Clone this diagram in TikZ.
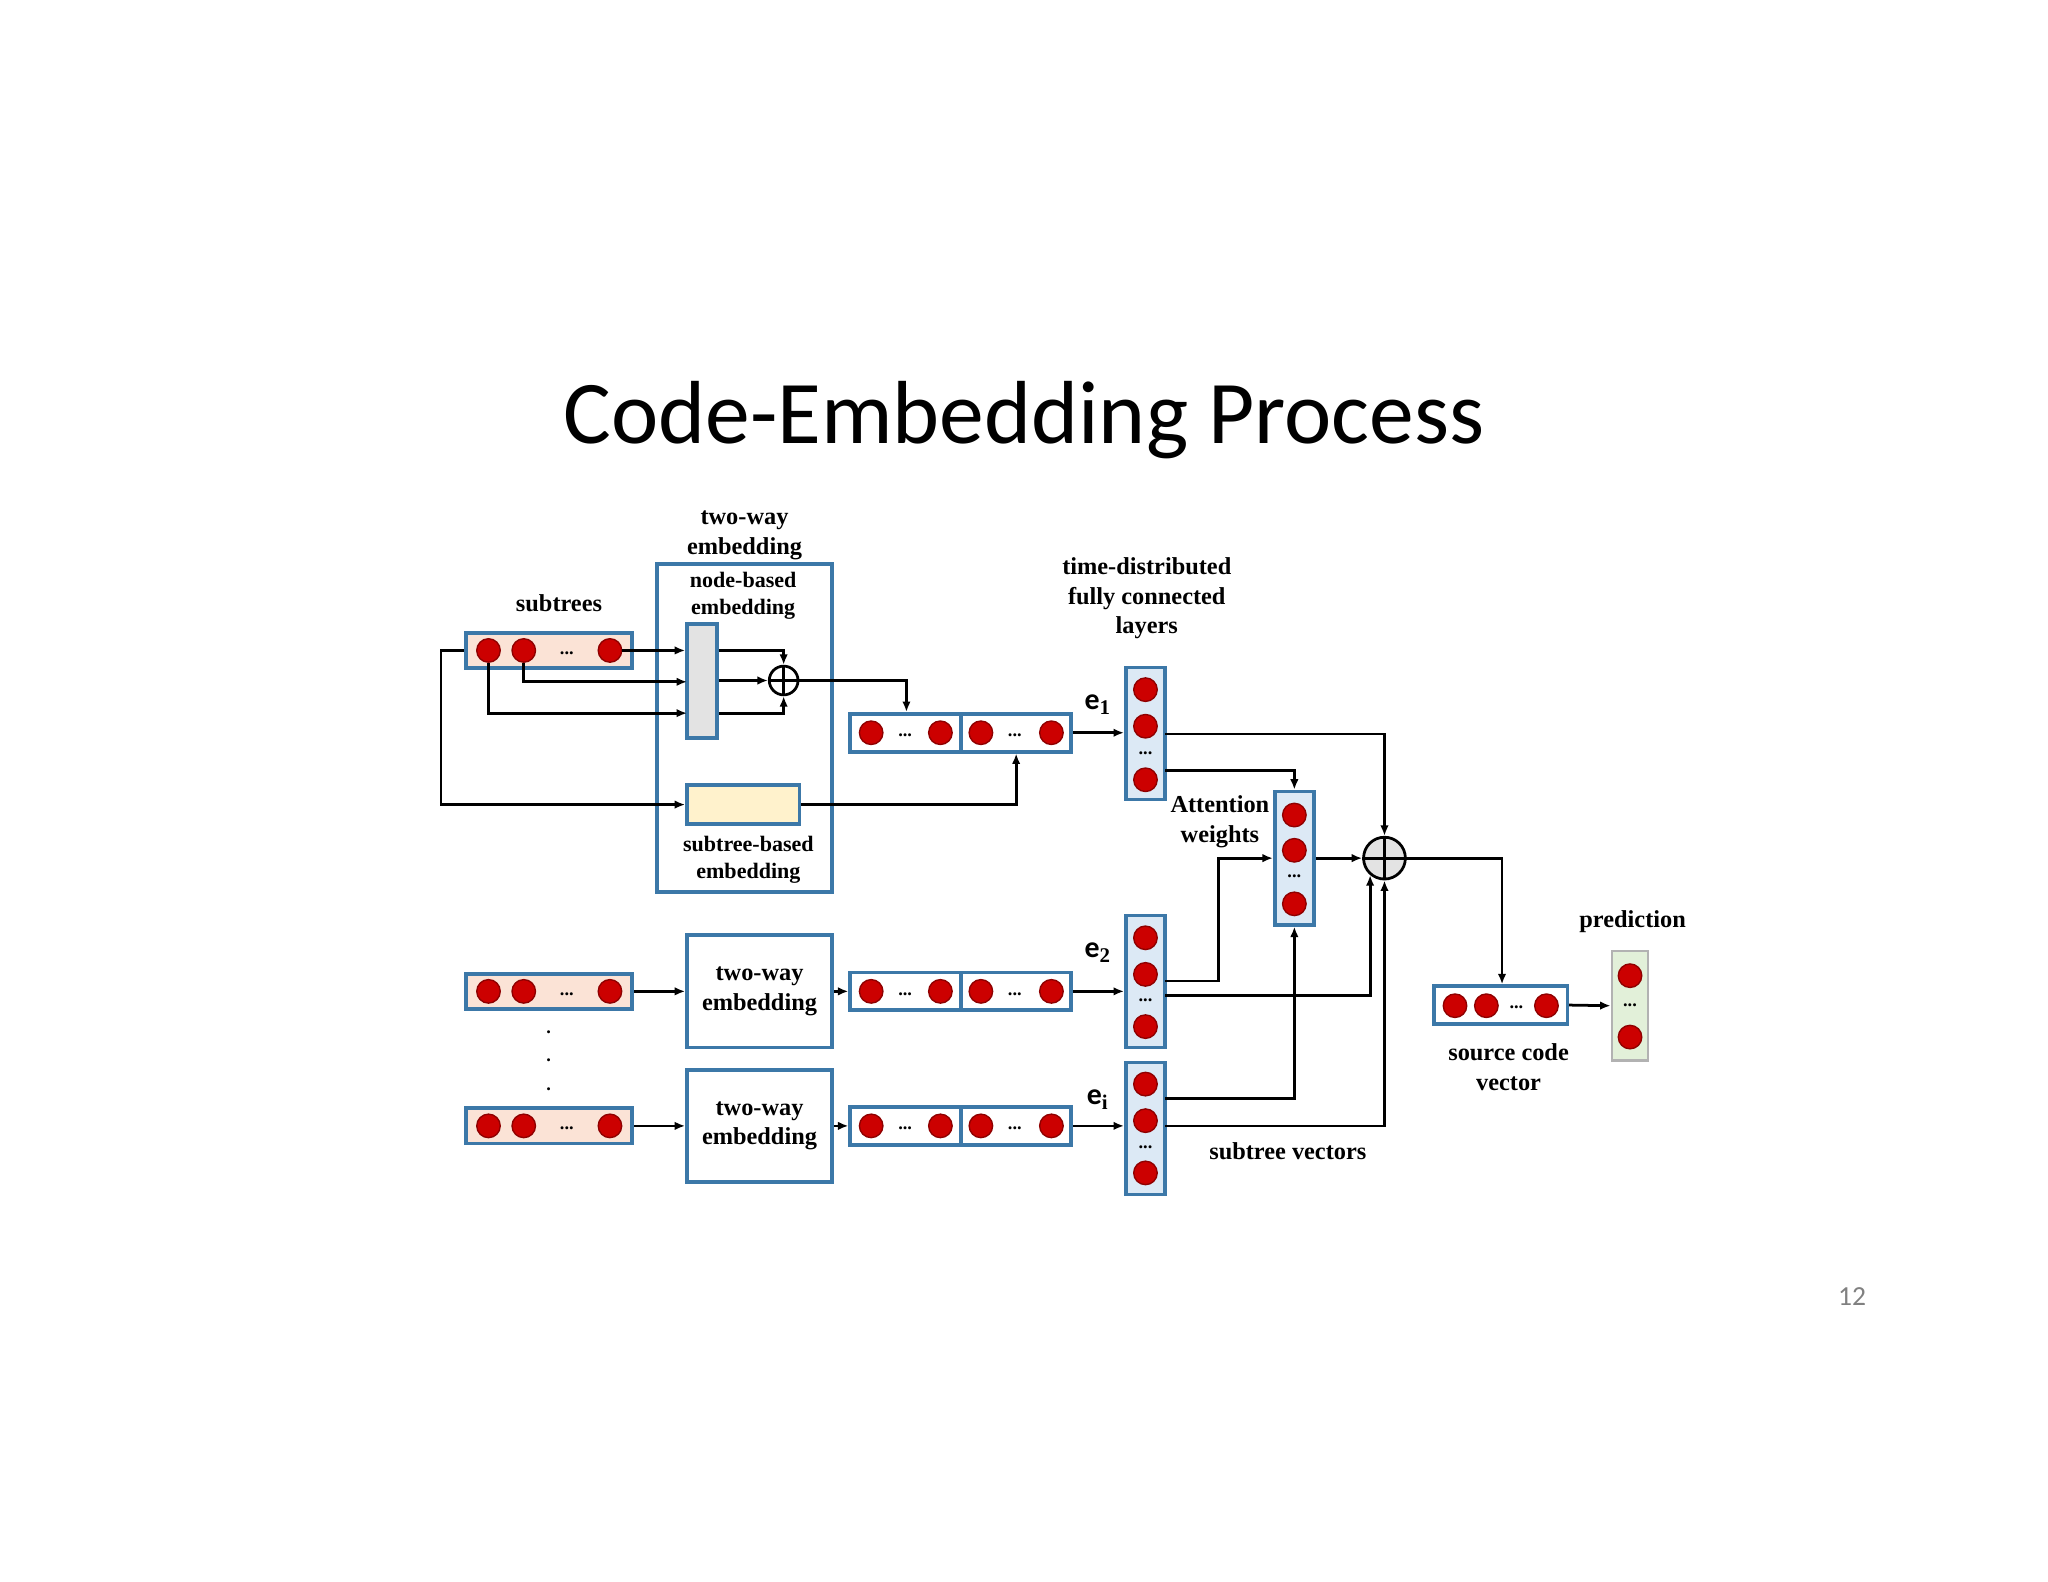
\documentclass[tikz,border=0pt]{standalone}
\usepackage{fontspec}
\setmainfont{Liberation Serif}
\newfontfamily\slidefont{Carlito}
\usetikzlibrary{calc}
\usetikzlibrary{arrows.meta}
\usetikzlibrary{positioning}
\definecolor{boxblue}{HTML}{3C78A8}
\definecolor{peach}{HTML}{FBE3D6}
\definecolor{paleblue}{HTML}{DCE9F5}
\definecolor{palegray}{HTML}{E3E3E3}
\definecolor{paleyellow}{HTML}{FFF2CC}
\definecolor{palegreen}{HTML}{E2F0D9}
\definecolor{dotred}{HTML}{CC0000}
\tikzset{
  vec/.style={draw=boxblue, line width=0.8pt, inner sep=0pt},
  dot/.style={circle, fill=dotred, draw=dotred!70!black, line width=0.3pt, minimum size=0.18cm, inner sep=0pt},
  dd/.style={font=\bfseries\fontsize{4}{4}\selectfont, inner sep=0pt},
  lbl/.style={font=\bfseries\fontsize{5.3}{6.5}\selectfont, align=center, inner sep=0pt},
  slbl/.style={font=\bfseries\fontsize{4.8}{5.9}\selectfont, align=center, inner sep=0pt},
  elbl/.style={font=\slidefont\bfseries\fontsize{6.5}{7}\selectfont, inner sep=0pt},
  conn/.style={line width=0.6pt, -{Latex[length=0.8mm, width=0.65mm]}},
  oplus/.style={circle, draw, line width=0.6pt, inner sep=0pt},
}
\begin{document}
\begin{tikzpicture}[x=0.01cm, y={(0cm,-0.01cm)}]
    \useasboundingbox (0,0) rectangle (1568,1211);
    \node[font=\slidefont\fontsize{19.5}{22}\selectfont] (title) at (784,322) {Code-Embedding Process};
    \node[font=\slidefont\fontsize{6}{7}\selectfont, text=gray] (pagenum) at (1418,993) {12};

    % subtree vectors (input)
    \foreach \n/\y in {1/498, 2/759, 3/862} {
      \node[vec, fill=peach, minimum width=1.27cm, minimum height=0.27cm] (s\n) at (420.5,\y) {};
      \node[dot] (s\n c1) at (374,\y) {};
      \node[dot] (s\n c2) at (401,\y) {};
      \node[dd] (s\n d) at (434,\y+2) {...};
      \node[dot] (s\n c3) at (467,\y) {};
    }
    \node[lbl] (subtrees) at (428,462) {subtrees};
    \foreach \y in {790,812,834} \node[dd] at (420,\y) {.};

    % two-way embedding block
    \node[vec, minimum width=1.34cm, minimum height=2.51cm] (tw1) at (570,557.5) {};
    \node[lbl] (tw1lbl) at (570,410) {two-way\\embedding};
    \node[slbl] (nblbl) at (569,456) {node-based\\embedding};
    \node[vec, fill=palegray, minimum width=0.23cm, minimum height=0.87cm] (nb) at (537.5,521.5) {};
    \node[vec, fill=paleyellow, minimum width=0.86cm, minimum height=0.30cm] (sb) at (569,616) {};
    \node[slbl] (sblbl) at (573,658) {subtree-based\\embedding};
    \node[oplus, minimum size=0.22cm] (add1) at (600,521) {};
    \draw[line width=0.6pt] (add1.north) -- (add1.south) (add1.west) -- (add1.east);
    \node[vec, minimum width=1.11cm, minimum height=0.86cm] (tw2) at (581.5,759) {};
    \node[lbl] at (tw2) {two-way\\embedding};
    \node[vec, minimum width=1.11cm, minimum height=0.86cm] (tw3) at (581.5,862) {};
    \node[lbl] at (tw3) {two-way\\embedding};

    \coordinate (nbin2) at (526,522);
    \coordinate (nbin3) at (526,546);
    \draw[conn] (s1c3.east) -- (nb.west |- s1c3);
    \draw[conn] (s1c2.south) |- (nbin2);
    \draw[conn] (s1c1.south) |- (nbin3);
    \draw[conn] (s1.west) -- ++(-18,0) |- (sb.west);
    \draw[conn] (nb.east |- s1c3) -| (add1.north);
    \draw[conn] (nb.east |- add1) -- (add1.west);
    \draw[conn] (nb.east |- nbin3) -| (add1.south);
    \draw[conn] (s2.east) -- (tw2.west);
    \draw[conn] (s3.east) -- (tw3.west);

    % concatenated vectors
    \foreach \n/\y in {1/561, 2/759, 3/862} {
      \node[vec, minimum width=0.85cm, minimum height=0.29cm] (ca\n) at (693.5,\y) {};
      \node[vec, minimum width=0.84cm, minimum height=0.29cm] (cb\n) at (778,\y) {};
      \node[dot] at (667,\y) {};
      \node[dd] at (693,\y+2) {...};
      \node[dot] at (720,\y) {};
      \node[dot] at (751,\y) {};
      \node[dd] at (777,\y+2) {...};
      \node[dot] at (805,\y) {};
    }
    \draw[conn] (add1.east) -| (ca1.north -| 694,0);
    \draw[conn] (sb.east) -| (cb1.south);
    \draw[conn] (tw2.east) -- (ca2.west);
    \draw[conn] (tw3.east) -- (ca3.west);

    % time-distributed fully connected layers
    \foreach \n/\y/\a/\b/\c/\e in {1/561.5/528/556/597/1, 2/751.5/718/746/786/2, 3/864/830/858/898/i} {
      \node[vec, fill=paleblue, minimum width=0.30cm, minimum height=1.01cm] (fc\n) at (877,\y) {};
      \node[dot] at (877,\a) {};
      \node[dot] at (877,\b) {};
      \node[dd] at (877,\c-20) {...};
      \node[dot] at (877,\c) {};
      \node[elbl] (e\n) at (841,\y-22) {e$_{\mathbf{\e}}$};
    }
    \draw[conn] (cb1.east) -- (fc1.west |- cb1);
    \draw[conn] (cb2.east) -- (fc2.west |- cb2);
    \draw[conn] (cb3.east) -- (fc3.west |- cb3);
    \node[lbl] (fclbl) at (878,458) {time-distributed\\fully connected\\layers};

    % attention
    \node[vec, fill=paleblue, minimum width=0.30cm, minimum height=1.02cm] (att) at (991,657) {};
    \node[dot] at (991,624) {};
    \node[dot] at (991,651) {};
    \node[dd] at (991,671) {...};
    \node[dot] at (991,692) {};
    \node[lbl] (attlbl) at (934,629) {Attention\\weights};
    \node[oplus, fill=palegray, minimum size=0.32cm] (add2) at (1060,657) {};
    \draw[line width=0.6pt] (add2.north) -- (add2.south) (add2.west) -- (add2.east);

    \coordinate (fc1a) at (892,562);
    \coordinate (fc1b) at (892,590);
    \coordinate (fc2a) at (892,751);
    \coordinate (fc2b) at (892,762);
    \coordinate (fc3a) at (892,841);
    \coordinate (fc3b) at (892,862);
    \draw[conn] (fc1a) -| (add2.north);
    \draw[conn] (fc1b) -| (att.north);
    \draw[conn] (fc2a) -| (933,700) |- (att.west);
    \draw[conn] (att.east) -- (add2.west);
    \draw[conn] (fc2b) -| ($(add2.south)+(-11,-4)$);
    \draw[conn] (fc3a) -| (att.south);
    \draw[conn] (fc3b) -| (add2.south);
    \node[lbl] (svlbl) at (986,881) {subtree vectors};

    % source code vector and prediction
    \node[vec, minimum width=1.02cm, minimum height=0.29cm] (src) at (1149,769.5) {};
    \node[dot] at (1114,770) {};
    \node[dot] at (1138,770) {};
    \node[dd] at (1161,771) {...};
    \node[dot] at (1184,770) {};
    \node[lbl] (srclbl) at (1155,817) {source code\\vector};
    \draw[conn] (add2.east) -| (src.north -| 1150,0);
    \node[draw=gray!60, fill=palegreen, line width=0.5pt, minimum width=0.28cm, minimum height=0.84cm, inner sep=0pt] (pred) at (1248,770) {};
    \node[dot] at (1248,747) {};
    \node[dd] at (1248,770) {...};
    \node[dot] at (1248,794) {};
    \node[lbl] (predlbl) at (1250,706) {prediction};
    \draw[conn] (src.east) -- (pred.west);
\end{tikzpicture}
\end{document}
